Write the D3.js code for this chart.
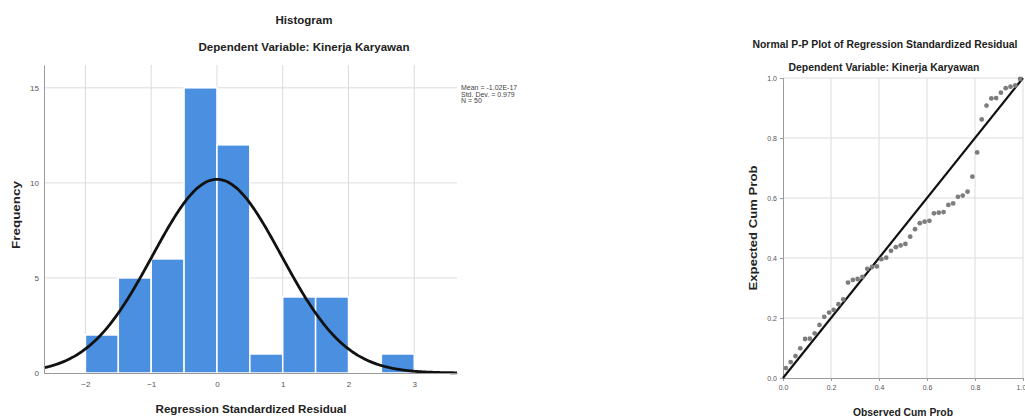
<!DOCTYPE html>
<html>
<head>
<meta charset="utf-8">
<script src="https://cdn.jsdelivr.net/npm/d3@7/dist/d3.min.js"></script>
<style>
  html, body { margin: 0; padding: 0; background: #fff; }
  svg { display: block; font-family: "Liberation Sans", Arial, sans-serif; }
  .tick text { fill: #555; }
</style>
</head>
<body>
<svg id="chart" width="1025" height="419"></svg>
<script>
// Histogram of standardized residuals
const binStarts = [-2, -1.5, -1, -0.5, 0, 0.5, 1, 1.5, 2, 2.5];
const binWidth = 0.5;
const binCounts = [2, 5, 6, 15, 12, 1, 4, 4, 0, 1];
const histXTicks = [-2, -1, 0, 1, 2, 3];
const histYTicks = [0, 5, 10, 15];
const residMean = -1.02e-17;
const residSd = 0.979;
const residN = 50;
const statLines = ["Mean = -1.02E-17", "Std. Dev. = 0.979", "N = 50"];

// Normal P-P plot
const ppObserved = [0.012, 0.032, 0.052, 0.072, 0.092, 0.112, 0.132, 0.152, 0.172, 0.192,
  0.211, 0.231, 0.251, 0.271, 0.291, 0.311, 0.331, 0.351, 0.371, 0.391,
  0.410, 0.430, 0.450, 0.470, 0.490, 0.510, 0.530, 0.550, 0.570, 0.590,
  0.610, 0.629, 0.649, 0.669, 0.689, 0.709, 0.729, 0.749, 0.769, 0.789,
  0.809, 0.828, 0.848, 0.868, 0.888, 0.908, 0.928, 0.948, 0.968, 0.988];
const ppExpected = [0.033, 0.053, 0.073, 0.099, 0.130, 0.131, 0.149, 0.177, 0.204, 0.218,
  0.227, 0.246, 0.262, 0.318, 0.327, 0.330, 0.337, 0.364, 0.370, 0.372,
  0.396, 0.401, 0.424, 0.436, 0.442, 0.447, 0.471, 0.496, 0.516, 0.521,
  0.524, 0.549, 0.551, 0.553, 0.577, 0.582, 0.604, 0.608, 0.621, 0.671,
  0.752, 0.862, 0.908, 0.932, 0.933, 0.951, 0.966, 0.971, 0.975, 0.997];
const ppTicks = [0, 0.2, 0.4, 0.6, 0.8, 1.0];

const svg = d3.select("#chart");
const gridColor = "#dcdcdc";
const axisColor = "#9a9a9a";

// ---------- Histogram ----------
const hx = d3.scaleLinear().domain([-2.63, 3.65]).range([44, 457]);
const hy = d3.scaleLinear().domain([0, 16.2]).range([373, 65]);
const hist = svg.append("g");

// grid
hist.selectAll(".vgrid").data(histXTicks).join("line")
  .attr("x1", d => hx(d)).attr("x2", d => hx(d))
  .attr("y1", hy(16.2)).attr("y2", hy(0))
  .attr("stroke", gridColor).attr("stroke-width", 1);
hist.selectAll(".hgrid").data(histYTicks.filter(d => d > 0)).join("line")
  .attr("x1", hx(-2.63)).attr("x2", hx(3.65))
  .attr("y1", d => hy(d)).attr("y2", d => hy(d))
  .attr("stroke", gridColor).attr("stroke-width", 1);

// bars
hist.selectAll(".bar").data(binStarts.map((s, i) => ({ s, c: binCounts[i] })).filter(d => d.c > 0))
  .join("rect")
  .attr("x", d => hx(d.s))
  .attr("y", d => hy(d.c))
  .attr("width", d => hx(d.s + binWidth) - hx(d.s))
  .attr("height", d => hy(0) - hy(d.c))
  .attr("fill", "#4a8fe0")
  .attr("stroke", "#ffffff")
  .attr("stroke-width", 1.5);

// fitted normal curve
const curvePts = d3.range(-2.63, 3.651, 0.02).map(v => [v,
  residN * binWidth / (residSd * Math.sqrt(2 * Math.PI)) *
  Math.exp(-0.5 * Math.pow((v - residMean) / residSd, 2))]);
hist.append("path")
  .datum(curvePts)
  .attr("d", d3.line().x(d => hx(d[0])).y(d => hy(d[1])).curve(d3.curveBasis))
  .attr("fill", "none").attr("stroke", "#111").attr("stroke-width", 2.8);

// axes
const hxAxis = hist.append("g").attr("transform", `translate(0,${hy(0)})`)
  .call(d3.axisBottom(hx).tickValues(histXTicks).tickSize(0).tickPadding(8).tickFormat(d3.format("d")));
hxAxis.select(".domain").attr("stroke", axisColor);
hxAxis.selectAll("text").attr("font-size", 8).attr("font-family", "Liberation Sans");
const hyAxis = hist.append("g").attr("transform", `translate(${hx(-2.63)},0)`)
  .call(d3.axisLeft(hy).tickValues(histYTicks).tickSize(0).tickPadding(5).tickFormat(d3.format("d")));
hyAxis.select(".domain").attr("stroke", axisColor);
hyAxis.selectAll("text").attr("font-size", 8).attr("font-family", "Liberation Sans");

// titles
hist.append("text").attr("x", 304).attr("y", 24).attr("text-anchor", "middle")
  .attr("font-size", 11).attr("font-weight", "bold").attr("fill", "#222")
  .attr("textLength", 57).attr("lengthAdjust", "spacingAndGlyphs").text("Histogram");
hist.append("text").attr("x", 304).attr("y", 51).attr("text-anchor", "middle")
  .attr("font-size", 11).attr("font-weight", "bold").attr("fill", "#222")
  .attr("textLength", 211).attr("lengthAdjust", "spacingAndGlyphs").text("Dependent Variable: Kinerja Karyawan");
hist.append("text").attr("x", 251).attr("y", 413).attr("text-anchor", "middle")
  .attr("font-size", 11).attr("font-weight", "bold").attr("fill", "#222")
  .attr("textLength", 191).attr("lengthAdjust", "spacingAndGlyphs").text("Regression Standardized Residual");
hist.append("text").attr("transform", "translate(20,215) rotate(-90)").attr("text-anchor", "middle")
  .attr("font-size", 11).attr("font-weight", "bold").attr("fill", "#222")
  .attr("textLength", 68).attr("lengthAdjust", "spacingAndGlyphs").text("Frequency");

// statistics box
hist.selectAll(".stat").data(statLines).join("text")
  .attr("x", 461).attr("y", (d, i) => 90 + i * 6.5)
  .attr("font-size", 7).attr("fill", "#444").text(d => d);

// ---------- Normal P-P plot ----------
const px = d3.scaleLinear().domain([0, 1]).range([783, 1023]);
const py = d3.scaleLinear().domain([0, 1]).range([378, 78]);
const pp = svg.append("g");

pp.selectAll(".pvgrid").data(ppTicks.filter(d => d > 0)).join("line")
  .attr("x1", d => px(d)).attr("x2", d => px(d))
  .attr("y1", py(1)).attr("y2", py(0))
  .attr("stroke", gridColor).attr("stroke-width", 1);
pp.selectAll(".phgrid").data(ppTicks.filter(d => d > 0)).join("line")
  .attr("x1", px(0)).attr("x2", px(1))
  .attr("y1", d => py(d)).attr("y2", d => py(d))
  .attr("stroke", gridColor).attr("stroke-width", 1);

const pxAxis = pp.append("g").attr("transform", `translate(0,${py(0)})`)
  .call(d3.axisBottom(px).tickValues(ppTicks).tickSize(3).tickPadding(4).tickFormat(d3.format(".1f")));
pxAxis.select(".domain").attr("stroke", axisColor);
pxAxis.selectAll("line").attr("stroke", axisColor);
pxAxis.selectAll("text").attr("font-size", 7).attr("font-family", "Liberation Sans");
// last label sits at the right edge of the page, so anchor it at its end
pxAxis.selectAll(".tick text").filter(d => d === 1).attr("text-anchor", "end").attr("dx", "0.4em");
const pyAxis = pp.append("g").attr("transform", `translate(${px(0)},0)`)
  .call(d3.axisLeft(py).tickValues(ppTicks).tickSize(3).tickPadding(3).tickFormat(d3.format(".1f")));
pyAxis.select(".domain").attr("stroke", axisColor);
pyAxis.selectAll("line").attr("stroke", axisColor);
pyAxis.selectAll("text").attr("font-size", 7).attr("font-family", "Liberation Sans");

// reference diagonal
pp.append("line")
  .attr("x1", px(0)).attr("y1", py(0)).attr("x2", px(1)).attr("y2", py(1))
  .attr("stroke", "#111").attr("stroke-width", 2.2);

// points
pp.selectAll(".pt").data(ppObserved.map((o, i) => [o, ppExpected[i]])).join("circle")
  .attr("cx", d => px(d[0])).attr("cy", d => py(d[1])).attr("r", 2.4)
  .attr("fill", "#7d7d7d");

// titles
pp.append("text").attr("x", 885).attr("y", 48).attr("text-anchor", "middle")
  .attr("font-size", 10).attr("font-weight", "bold").attr("fill", "#222")
  .attr("textLength", 265).attr("lengthAdjust", "spacingAndGlyphs").text("Normal P-P Plot of Regression Standardized Residual");
pp.append("text").attr("x", 884).attr("y", 71).attr("text-anchor", "middle")
  .attr("font-size", 10).attr("font-weight", "bold").attr("fill", "#222")
  .attr("textLength", 191).attr("lengthAdjust", "spacingAndGlyphs").text("Dependent Variable: Kinerja Karyawan");
pp.append("text").attr("x", 903).attr("y", 416).attr("text-anchor", "middle")
  .attr("font-size", 10).attr("font-weight", "bold").attr("fill", "#222")
  .attr("textLength", 100).attr("lengthAdjust", "spacingAndGlyphs").text("Observed Cum Prob");
pp.append("text").attr("transform", "translate(757,228) rotate(-90)").attr("text-anchor", "middle")
  .attr("font-size", 10).attr("font-weight", "bold").attr("fill", "#222")
  .attr("textLength", 125).attr("lengthAdjust", "spacingAndGlyphs").text("Expected Cum Prob");
</script>
</body>
</html>
